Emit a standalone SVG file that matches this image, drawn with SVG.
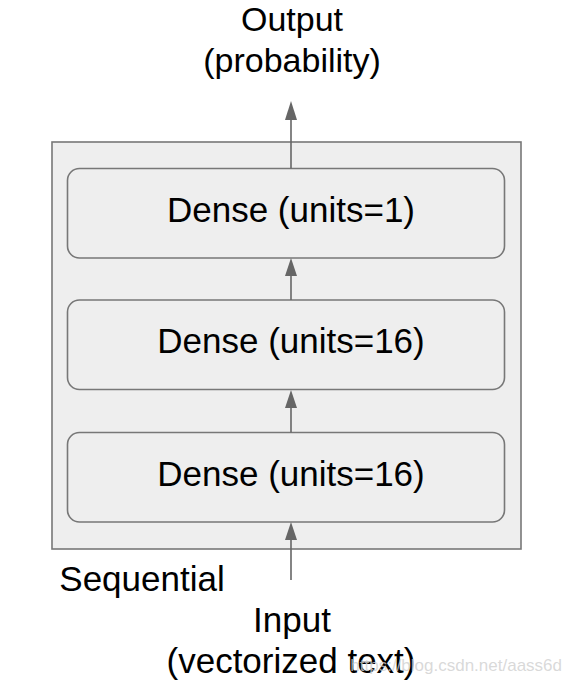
<svg xmlns="http://www.w3.org/2000/svg" width="571" height="685" viewBox="0 0 571 685">
<defs>
<style>
.t{font-family:"Liberation Sans",Arial,sans-serif;font-size:35px;fill:#000;text-anchor:middle}
.box{fill:#eeeeee;stroke:#777777;stroke-width:1.6}
.ln{stroke:#666666;stroke-width:1.6;fill:none}
.ah{fill:#666666}
</style>
</defs>
<rect width="571" height="685" fill="#ffffff"/>
<g id="sequential">
<rect class="box" x="52" y="142" width="469" height="407"/>
<text class="t" x="142" y="591">Sequential</text>
</g>
<g id="dense1">
<rect class="box" x="67.5" y="168.5" width="437" height="89.5" rx="12"/>
<text class="t" x="291" y="222">Dense (units=1)</text>
</g>
<g id="dense2">
<rect class="box" x="67.5" y="300" width="437" height="89.5" rx="12"/>
<text class="t" x="291" y="353">Dense (units=16)</text>
</g>
<g id="dense3">
<rect class="box" x="67.5" y="432.5" width="437" height="89.5" rx="12"/>
<text class="t" x="291" y="486">Dense (units=16)</text>
</g>
<g id="output">
<text class="t" x="292" y="31" style="font-size:34px">Output</text>
<text class="t" x="292" y="72" style="font-size:34px">(probability)</text>
</g>
<g id="input">
<text class="t" x="292" y="632">Input</text>
<text class="t" x="291" y="673">(vectorized text)</text>
</g>
<g id="connectors">
<line class="ln" x1="291" y1="168.5" x2="291" y2="118"/>
<polygon class="ah" points="291,101 285,120 297,120"/>
<line class="ln" x1="291" y1="300" x2="291" y2="274"/>
<polygon class="ah" points="291,258 285,276 297,276"/>
<line class="ln" x1="291" y1="432.5" x2="291" y2="406"/>
<polygon class="ah" points="291,390 285,408 297,408"/>
<line class="ln" x1="291" y1="580" x2="291" y2="538"/>
<polygon class="ah" points="291,522 285,540 297,540"/>
</g>
<text x="562" y="671" style="font-family:'Liberation Sans',Arial,sans-serif;font-size:17px;fill:#cfcfcf;fill-opacity:0.8;text-anchor:end">https://blog.csdn.net/aass6d</text>
</svg>
